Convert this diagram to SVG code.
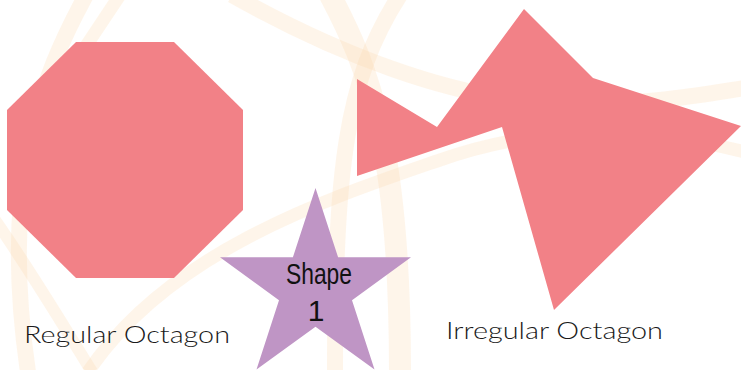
<svg xmlns="http://www.w3.org/2000/svg" width="741" height="370" viewBox="0 0 741 370">
  <style>
    .band { fill: none; stroke: #FAD7A8; stroke-opacity: 0.24; stroke-linecap: butt; }
    .oct { fill: #F28187; }
    .star { fill: #BF95C5; }
    .label { font-family: Lato, "Open Sans", "Liberation Sans", sans-serif; font-weight: 300; font-size: 23px; fill: #1a1a1a; }
    .hand { font-family: "Liberation Sans", "DejaVu Sans", sans-serif; font-size: 30px; fill: #111; }
  </style>
  <rect width="741" height="370" fill="#ffffff"/>
  <g id="background">
    <path class="band" stroke-width="16" d="M 232,-5 C 330,50 450,100 560,104 C 640,106 700,95 745,88"/>
    <path class="band" stroke-width="13" d="M 745,152 C 640,125 540,125 440,160 C 330,198 170,250 88,372"/>
    <path class="band" stroke-width="12" d="M -5,220 C 30,270 60,320 92,372"/>
    <path class="band" stroke-width="16" d="M 86,-5 C 40,80 0,180 28,372"/>
    <path class="band" stroke-width="13" d="M 120,-5 C 100,25 80,55 60,85"/>
    <path class="band" stroke-width="22" d="M 330,-5 C 370,70 400,150 400,372"/>
    <path class="band" stroke-width="16" d="M 400,-5 C 345,80 335,170 335,372"/>
  </g>
  <g id="regular-octagon">
    <polygon class="oct" points="76,42 174,42 243,110 243,210 174,278 76,278 7,210 7,110"/>
    <text class="label" x="24" y="343" textLength="206" lengthAdjust="spacingAndGlyphs">Regular Octagon</text>
  </g>
  <g id="irregular-octagon">
    <polygon class="oct" points="524,9 593,78 741,126 554,310 502,127 357,176 357,79 437,127"/>
    <text class="label" x="446" y="339" textLength="217" lengthAdjust="spacingAndGlyphs">Irregular Octagon</text>
  </g>
  <g id="shape-1">
    <polygon class="star" points="315.5,188 338.1,257.3 411,257.3 352,300.3 374.5,369.6 315.5,326.8 256.5,369.6 279,300.3 220,257.3 292.9,257.3"/>
    <text class="hand" x="286" y="284" textLength="66" lengthAdjust="spacingAndGlyphs">Shape</text>
    <text class="hand" x="316" y="321" text-anchor="middle">1</text>
  </g>
</svg>
